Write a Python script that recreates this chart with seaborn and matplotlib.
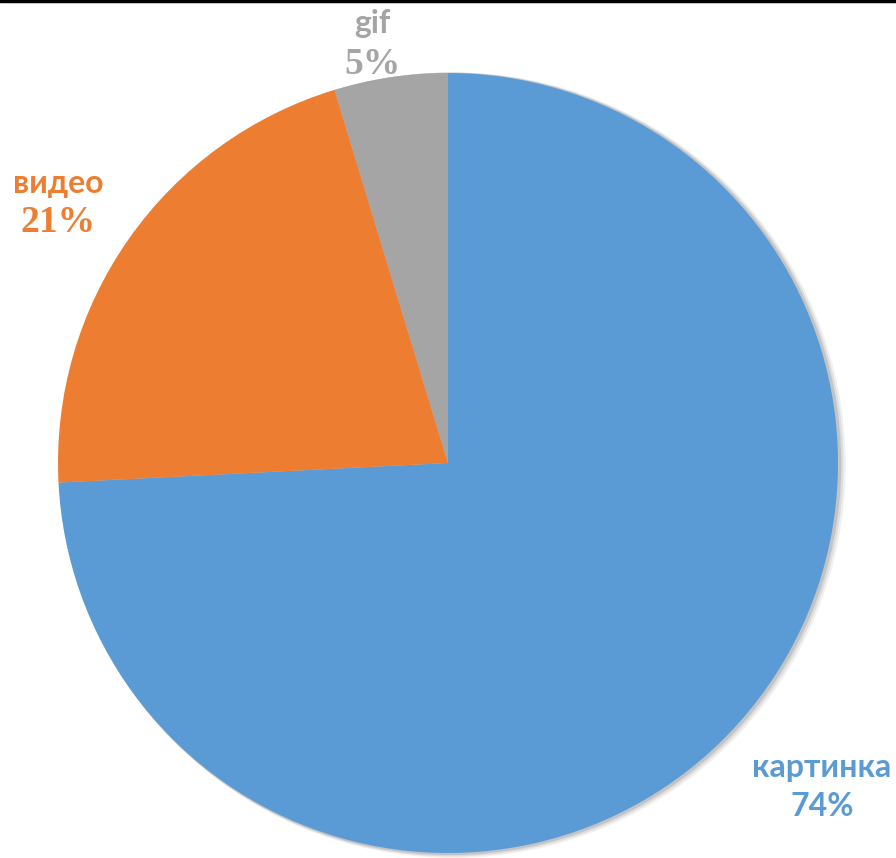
import numpy as np
import matplotlib.pyplot as plt
import seaborn as sns
from matplotlib.patches import Circle

labels = ['картинка', 'видео', 'gif']
shares = [74.2, 21.1, 4.7]
pct_text = ['74%', '21%', '5%']
colors = ['#5B9BD5', '#ED7D31', '#A5A5A5']

sns.set_theme(style="white")
plt.rcParams['font.family'] = ['Lato', 'DejaVu Sans']

fig = plt.figure(figsize=(8.96, 8.58), dpi=100)
ax = fig.add_axes([0, 0, 1, 1])

cx, cy, r = 448, 463, 390

# soft shadow behind the pie
for k, a in zip([7, 5, 3], [0.12, 0.18, 0.3]):
    ax.add_patch(Circle((cx + k * 0.7, cy + k * 0.3), r + k * 0.4, color='#8a8a8a',
                        alpha=a, lw=0, zorder=0))

pal = sns.color_palette(colors)
# y axis is flipped (pixel-like coords), so start at -90 and go "counterclock"
wedges, _ = ax.pie(shares, colors=pal, startangle=-90, counterclock=True,
                   center=(cx, cy), radius=r, frame=True,
                   wedgeprops=dict(linewidth=0))
for w in wedges:
    w.set_zorder(2)
ax.set_xlim(0, 896)
ax.set_ylim(858, 0)
ax.set_aspect('equal')
ax.axis('off')

# labels: name (sans) + percent
pos = {'картинка': (822, 768, 807, 'sans'),
       'видео': (58, 183, 222, 'serif'),
       'gif': (372, 24, 64, 'serif')}
for lab, pt, col in zip(labels, pct_text, colors):
    x, y1, y2, pf = pos[lab]
    ax.text(x, y1, lab, color=col, fontsize=23, fontweight='bold',
            ha='center', va='center', family=['Lato', 'DejaVu Sans'], zorder=5)
    fam = ['Liberation Serif'] if pf == 'serif' else ['Lato', 'DejaVu Sans']
    fs = 27 if pf == 'serif' else 23
    ax.text(x, y2, pt, color=col, fontsize=fs, fontweight='bold',
            ha='center', va='center', family=fam, zorder=5)

# thin dark border line at the very top
fig.add_artist(plt.Line2D([0, 1], [0.999, 0.999], color='black', lw=2.5,
                          transform=fig.transFigure))

fig.savefig('out.png', dpi=100, facecolor='white')
